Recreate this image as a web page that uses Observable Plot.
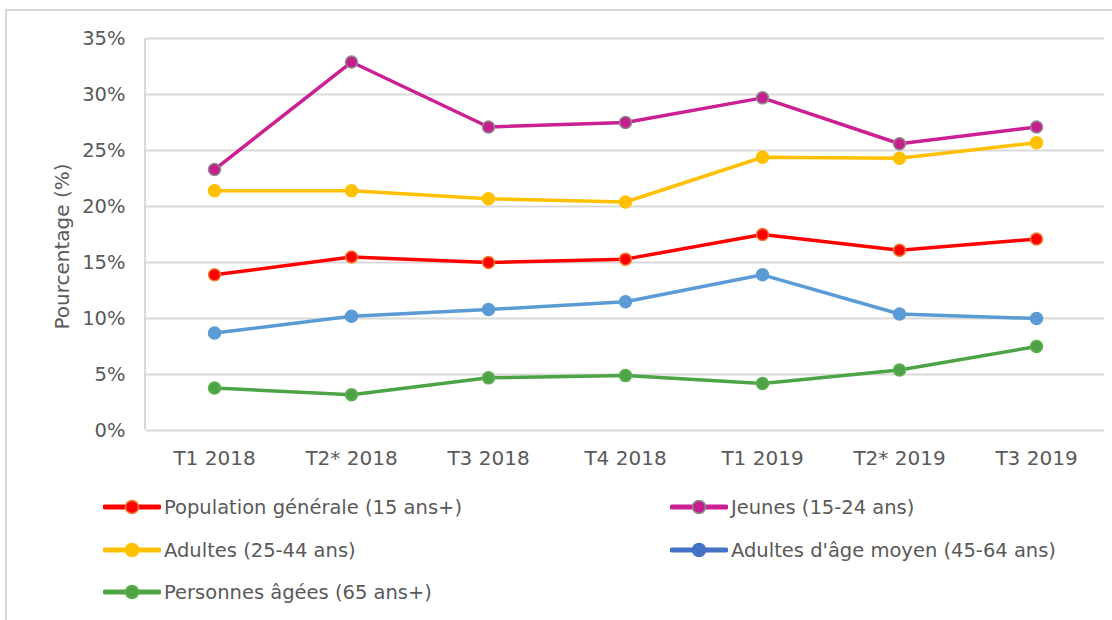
<!DOCTYPE html>
<html>
<head>
<meta charset="utf-8">
<script src="https://cdn.jsdelivr.net/npm/d3@7"></script>
<script src="https://cdn.jsdelivr.net/npm/@observablehq/plot@0.6"></script>
<style>
  html, body { margin: 0; padding: 0; background: #fff; }
  body { width: 1112px; height: 620px; position: relative; overflow: hidden; font-family: "DejaVu Sans", sans-serif; color: #595959; }
  #border { position: absolute; left: 5px; top: 9px; width: 1200px; height: 700px; border-left: 2px solid #d9d9d9; border-top: 2px solid #d9d9d9; }
  #chart { position: absolute; left: 0; top: 0; }
  .leg { position: absolute; display: flex; align-items: center; font-size: 19.5px; color: #595959; white-space: nowrap; }
  .leg svg { margin-right: 3px; }
</style>
</head>
<body>
<div id="border"></div>
<div id="chart"></div>
<div id="legend"></div>
<script>
const periods = ["T1 2018", "T2* 2018", "T3 2018", "T4 2018", "T1 2019", "T2* 2019", "T3 2019"];
const seriesNames = [
  "Population générale (15 ans+)",
  "Jeunes (15-24 ans)",
  "Adultes (25-44 ans)",
  "Adultes d'âge moyen (45-64 ans)",
  "Personnes âgées (65 ans+)"
];
const popGenerale = [13.9, 15.5, 15.0, 15.3, 17.5, 16.1, 17.1];
const jeunes      = [23.3, 32.9, 27.1, 27.5, 29.7, 25.6, 27.1];
const adultes     = [21.4, 21.4, 20.7, 20.4, 24.4, 24.3, 25.7];
const ageMoyen    = [8.7, 10.2, 10.8, 11.5, 13.9, 10.4, 10.0];
const agees       = [3.8, 3.2, 4.7, 4.9, 4.2, 5.4, 7.5];
const yTicks = [0, 5, 10, 15, 20, 25, 30, 35];

const lineColors   = ["#FF0000", "#CC1F93", "#FFC000", "#5B9BD5", "#4DA447"];
const markerFill   = ["#FF0000", "#C51F8E", "#FFC000", "#5B9BD5", "#4DA447"];
const markerStroke = ["#ED7D31", "#8C8C8C", "#FFC000", "#5B9BD5", "#5FB04F"];
const legendLine   = ["#FF0000", "#CC1F93", "#FFC000", "#4472C4", "#4DA447"];
const legendFill   = ["#FF0000", "#C51F8E", "#FFC000", "#4472C4", "#4DA447"];
const legendStroke = ["#ED7D31", "#8C8C8C", "#FFC000", "#4472C4", "#5FB04F"];

const allValues = [popGenerale, jeunes, adultes, ageMoyen, agees];
const data = [];
seriesNames.forEach((s, i) => periods.forEach((p, j) => data.push({series: s, period: p, value: allValues[i][j]})));

const marks = [
  Plot.ruleY(yTicks, {stroke: "#d9d9d9", strokeWidth: 2}),
  Plot.axisY({ticks: yTicks, tickFormat: d => d + "%", tickSize: 0, tickPadding: 21, fontSize: 19.5,
    label: "Pourcentage (%)", labelAnchor: "center", labelArrow: "none", labelOffset: 92}),
  Plot.axisX({tickSize: 0, tickPadding: 20, fontSize: 20, label: null})
];
seriesNames.forEach((s, i) => {
  const d = data.filter(r => r.series === s);
  marks.push(Plot.line(d, {x: "period", y: "value", stroke: lineColors[i], strokeWidth: 3.5}));
  marks.push(Plot.dot(d, {x: "period", y: "value", r: 6, fill: markerFill[i], stroke: markerStroke[i], strokeWidth: 1.5}));
});

const chart = Plot.plot({
  width: 1112,
  height: 480,
  marginTop: 38,
  marginBottom: 50,
  marginLeft: 146,
  marginRight: 8,
  style: {fontFamily: "DejaVu Sans, sans-serif", color: "#595959", background: "transparent", overflow: "visible"},
  x: {type: "point", domain: periods, padding: 0.48},
  y: {domain: [0, 35]},
  marks
});
document.getElementById("chart").appendChild(chart);

// left axis line
const xr = chart.scale("x").range;
const yr = chart.scale("y").range;
d3.select(chart).insert("line", ":first-child")
  .attr("x1", xr[0] - 1).attr("x2", xr[0] - 1)
  .attr("y1", yr[1]).attr("y2", yr[0])
  .attr("stroke", "#d9d9d9").attr("stroke-width", 2);
// y-axis title: size and slight downward shift
const yl = d3.select(chart).select("g[aria-label='y-axis label']");
yl.style("font-size", "20px");
const t0 = yl.attr("transform") || "";
yl.attr("transform", t0 + " translate(0,12)");

// legend
const legendPos = [[103, 507], [670, 507], [103, 550], [670, 550], [103, 592]];
const leg = document.getElementById("legend");
seriesNames.forEach((s, i) => {
  const div = document.createElement("div");
  div.className = "leg";
  div.style.left = legendPos[i][0] + "px";
  div.style.top = (legendPos[i][1] - 13) + "px";
  div.innerHTML = `<svg width="58" height="26"><line x1="2" x2="56" y1="13" y2="13" stroke="${legendLine[i]}" stroke-width="5" stroke-linecap="round"/><circle cx="29" cy="13" r="6.5" fill="${legendFill[i]}" stroke="${legendStroke[i]}" stroke-width="1.5"/></svg><span>${s}</span>`;
  leg.appendChild(div);
});
</script>
</body>
</html>
